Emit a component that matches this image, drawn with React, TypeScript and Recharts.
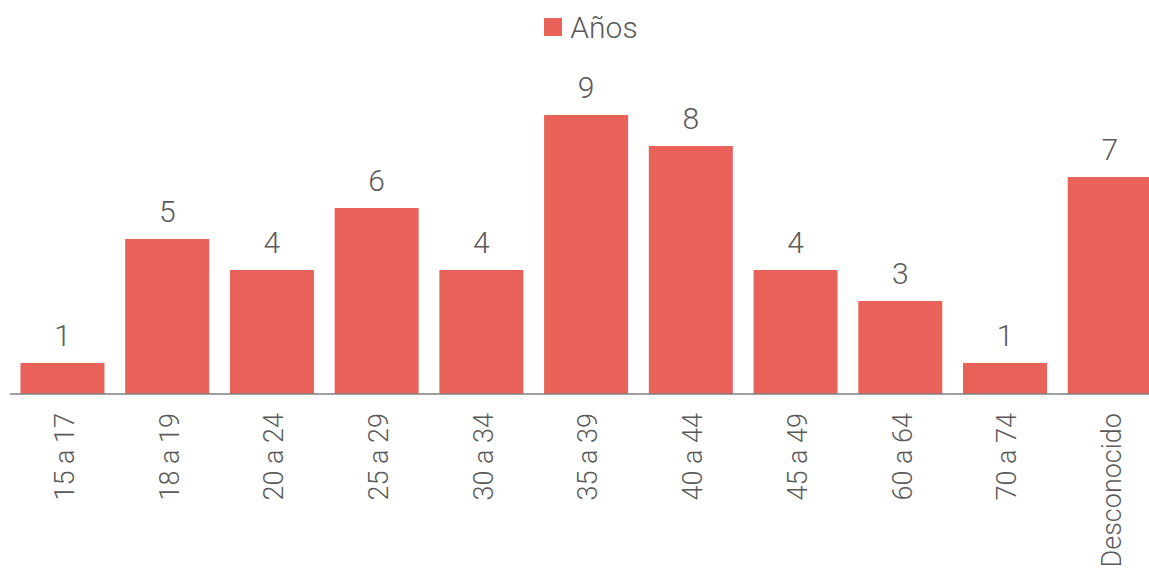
import React from 'react';
import { BarChart, Bar, XAxis, YAxis, Legend, LabelList } from 'recharts';

const categories = ['15 a 17', '18 a 19', '20 a 24', '25 a 29', '30 a 34', '35 a 39', '40 a 44', '45 a 49', '60 a 64', '70 a 74', 'Desconocido'];
const values = [1, 5, 4, 6, 4, 9, 8, 4, 3, 1, 7];
const seriesName = 'Años';

const data = categories.map((c, i) => ({ cat: c, v: values[i] }));

const BAR = '#E8625A';
const TEXT = '#5a5a5a';
const FONT = 'Roboto, "DejaVu Sans", sans-serif';

const Tick = (props: any) => {
  const { x, y, payload } = props;
  return (
    <text
      transform={`translate(${x + 2}, ${y + 19}) rotate(-90)`}
      textAnchor="end"
      dy="0.35em"
      fill={TEXT}
      fontSize={27}
      fontWeight={300}
      fontFamily={FONT}
    >
      {payload.value}
    </text>
  );
};

const LegendContent = () => (
  <div style={{ height: 77, display: 'flex', justifyContent: 'center', alignItems: 'flex-start', paddingLeft: 10, boxSizing: 'border-box' }}>
    <div style={{ display: 'flex', alignItems: 'center', height: 40 }}>
      <div style={{ width: 18, height: 18, background: BAR, marginRight: 8 }} />
      <span style={{ fontFamily: FONT, fontSize: 30, fontWeight: 300, color: TEXT }}>{seriesName}</span>
    </div>
  </div>
);

export default function App() {
  return (
    <div style={{ position: 'absolute', left: 0, top: 0, width: 1149, height: 573, overflow: 'hidden', background: '#fff' }}>
      <BarChart
        width={1162}
        height={573}
        data={data}
        margin={{ top: 7, right: 0, left: 10, bottom: 0 }}
        barCategoryGap="10%"
      >
        <Legend verticalAlign="top" align="center" content={<LegendContent />} />
        <XAxis
          dataKey="cat"
          interval={0}
          height={179}
          tickLine={false}
          tickSize={0}
          tickMargin={0}
          axisLine={{ stroke: '#7f7f7f', strokeWidth: 1.5 }}
          tick={<Tick />}
        />
        <YAxis hide domain={[0, 10]} />
        <Bar dataKey="v" name={seriesName} fill={BAR} isAnimationActive={false}>
          <LabelList dataKey="v" position="top" offset={17} fill={TEXT} fontSize={30} fontWeight={300} fontFamily={FONT} />
        </Bar>
      </BarChart>
    </div>
  );
}
